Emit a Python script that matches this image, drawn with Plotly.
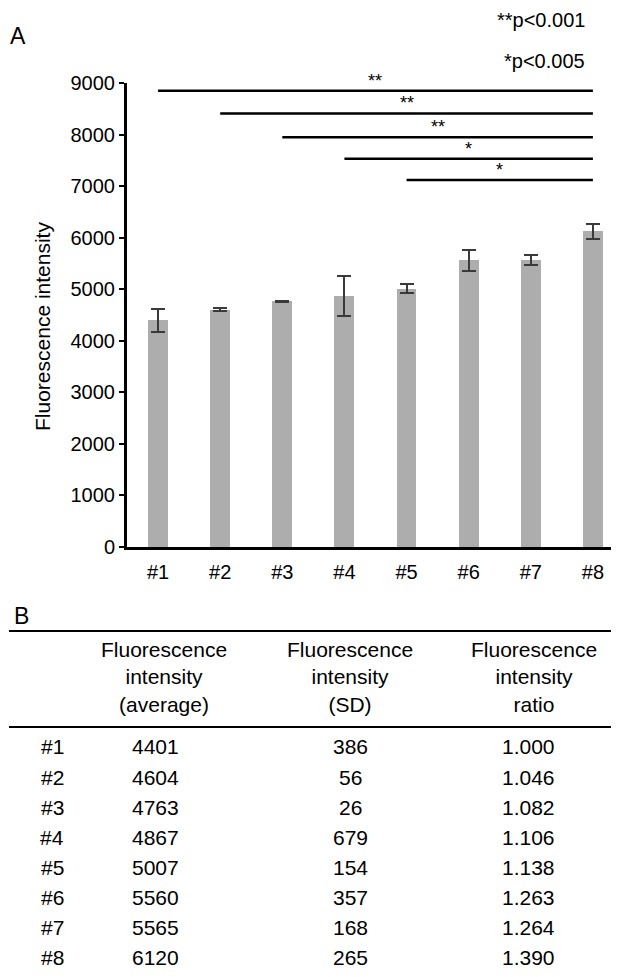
import plotly.graph_objects as go

# ---------------- data ----------------
categories = ["#1", "#2", "#3", "#4", "#5", "#6", "#7", "#8"]
avg_values = [4401, 4604, 4763, 4867, 5007, 5560, 5565, 6120]
sd_values = [386, 56, 26, 679, 154, 357, 168, 265]
ratio_values = ["1.000", "1.046", "1.082", "1.106", "1.138", "1.263", "1.264", "1.390"]
# error bar half-lengths as drawn in the chart
err_values = [223, 32, 15, 392, 89, 206, 97, 153]
y_ticks = [0, 1000, 2000, 3000, 4000, 5000, 6000, 7000, 8000, 9000]

# significance brackets: start category -> #8
sig_start = ["#1", "#2", "#3", "#4", "#5"]
sig_end = "#8"
sig_levels = [8850, 8410, 7950, 7530, 7120]
sig_marks = ["**", "**", "**", "*", "*"]

header_cols = [
    "Fluorescence<br>intensity<br>(average)",
    "Fluorescence<br>intensity<br>(SD)",
    "Fluorescence<br>intensity<br>ratio",
]

# ---------------- layout geometry (page pixels; page has 8px body margin) ----------------
OFF = 8
W, H = 619 - OFF, 977 - OFF
ML = 127 - OFF
MT = 83 - OFF
MB = H - (547 - OFF)
MR = 0
PW, PH = W - ML - MR, H - MT - MB
FONT = "Liberation Sans, Arial, Helvetica, sans-serif"


def px(x):
    return (x - OFF - ML) / PW


def py(y):
    return (H - MB - (y - OFF)) / PH


fig = go.Figure()

fig.add_trace(go.Bar(
    x=categories, y=avg_values,
    width=0.32,
    marker=dict(color="#adadad", line=dict(width=0)),
    error_y=dict(type="data", array=err_values, visible=True,
                 color="#3a3a3a", thickness=2, width=7),
    showlegend=False, hoverinfo="x+y",
))

cat_idx = {c: i for i, c in enumerate(categories)}
for s, lvl, mk in zip(sig_start, sig_levels, sig_marks):
    fig.add_trace(go.Scatter(
        x=[s, sig_end], y=[lvl, lvl], mode="lines",
        line=dict(color="black", width=2.5), showlegend=False, hoverinfo="skip",
    ))
    mid = (cat_idx[s] + cat_idx[sig_end]) / 2
    fig.add_annotation(x=mid, y=lvl, xref="x", yref="y", text=mk,
                       showarrow=False, yanchor="bottom", yshift=-2,
                       font=dict(size=18, color="black", family=FONT))

annotations = []
# panel labels and p-value legend
annotations.append(dict(x=px(8), y=py(36), text="A", xanchor="left", yanchor="middle",
                        font=dict(size=23)))
annotations.append(dict(x=px(587), y=py(20), text="**p&lt;0.001",
                        xanchor="right", yanchor="middle", font=dict(size=20)))
annotations.append(dict(x=px(587), y=py(61), text="*p&lt;0.005",
                        xanchor="right", yanchor="middle", font=dict(size=20)))
# y-axis title
annotations.append(dict(x=px(42), y=py(327), text="Fluorescence intensity",
                        textangle=-90, xanchor="center", yanchor="middle",
                        font=dict(size=21)))
# panel B
annotations.append(dict(x=px(12), y=py(616), text="B", xanchor="left", yanchor="middle",
                        font=dict(size=23)))
col_x = [164, 350, 534]
for cx, htxt in zip(col_x, header_cols):
    annotations.append(dict(x=px(cx), y=py(677), text=htxt, xanchor="center",
                            yanchor="middle", align="center",
                            font=dict(size=21)))
row_y0, row_dy = 747, 30
for i, cat in enumerate(categories):
    yy = py(row_y0 + i * row_dy)
    annotations.append(dict(x=px(52), y=yy, text=cat, xanchor="center", yanchor="middle",
                            font=dict(size=21)))
    annotations.append(dict(x=px(155), y=yy, text=str(avg_values[i]), xanchor="center",
                            yanchor="middle", font=dict(size=21)))
    annotations.append(dict(x=px(350), y=yy, text=str(sd_values[i]), xanchor="center",
                            yanchor="middle", font=dict(size=21)))
    annotations.append(dict(x=px(528), y=yy, text=ratio_values[i], xanchor="center",
                            yanchor="middle", font=dict(size=21)))

for a in annotations:
    a.update(xref="paper", yref="paper", showarrow=False)
    a.setdefault("font", {})
    a["font"].update(family=FONT, color="black")
    fig.add_annotation(**a)

shapes = []
for yy in (631, 727):
    shapes.append(dict(type="line", xref="paper", yref="paper",
                       x0=px(9), x1=px(619), y0=py(yy), y1=py(yy),
                       line=dict(color="black", width=2)))
fig.update_layout(shapes=shapes)

fig.update_layout(
    width=W, height=H,
    margin=dict(l=ML, r=MR, t=MT, b=MB, pad=0),
    plot_bgcolor="white", paper_bgcolor="white",
    font=dict(family=FONT, color="black", size=20),
    showlegend=False,
    bargap=0,
)
fig.update_xaxes(
    type="category", range=[-0.5, 7.42],
    showline=True, linecolor="black", linewidth=3,
    ticks="outside", ticklen=5, tickcolor="rgba(0,0,0,0)",
    tickfont=dict(size=20), showgrid=False, zeroline=False,
)
fig.update_yaxes(
    range=[0, 9000], tickvals=y_ticks, ticktext=[str(v) for v in y_ticks],
    showline=True, linecolor="black", linewidth=3,
    ticks="outside", ticklen=5, tickwidth=2, tickcolor="black",
    tickfont=dict(size=20), showgrid=False, zeroline=False,
)

fig.write_html("out.html")
